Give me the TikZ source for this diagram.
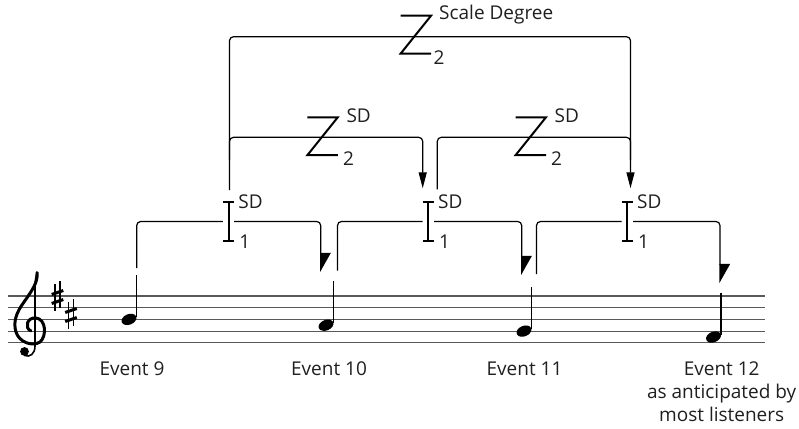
\documentclass[tikz,border=0pt]{standalone}
\usepackage{fontspec}
\setmainfont{Open Sans}
\usetikzlibrary{arrows.meta,shapes.geometric}

\begin{document}
\begin{tikzpicture}[x=1pt,y=-1pt,
  lbl/.style={font=\fontsize{19}{23}\selectfont, inner sep=0pt, text=black!88},
  staffline/.style={line width=1.2pt, draw=black!65},
  notehead/.style={ellipse, fill=black, minimum width=15.5pt, minimum height=10.5pt, inner sep=0pt, rotate=22},
  stem/.style={line width=1.3pt},
  brk/.style={line width=1.2pt, rounded corners=4pt},
  uparr/.style={brk, -{Triangle[width=8pt,length=16pt]}},
  lowarr/.style={brk, -{Triangle[harpoon,width=20pt,length=18pt]}},
  ibar/.style={inner sep=0pt, minimum width=11pt, minimum height=38.5pt},
  zsym/.style={inner sep=0pt, minimum width=30pt, minimum height=37.5pt},
  glyph/.style={line width=2pt},
]
\useasboundingbox (0,0) rectangle (799,428);

% staff
\foreach \y in {296,307.7,319.4,331.1,342.8}
  \draw[staffline] (8,\y) -- (765,\y);

% treble clef
\fill (24.5,351.5) circle (4.4pt);
\draw[line width=1.6pt] (24.5,355.5) .. controls (30,357.5) and (35,354) .. (35,346)
  -- (35,288) .. controls (35,281) and (36,276) .. (37,272.5);
\draw[line width=3pt, line cap=round] (37,272.5) .. controls (38.5,282) and (31,292) .. (24,302)
  .. controls (16,313) and (13,322) .. (16,332)
  .. controls (19,342) and (32,347) .. (40,342)
  .. controls (47,336) and (46,319) .. (36,318)
  .. controls (27,317) and (24,328) .. (31,331);

% key signature: two sharps
\foreach \dx/\dy in {0/0, 13.5/18} {
  \begin{scope}[shift={(\dx,\dy)}]
    \draw[line width=1.1pt] (55,284) -- (55,311) (60,281) -- (60,308);
    \draw[line width=3pt] (51.7,294.5) -- (63.3,290.5) (51.7,303.5) -- (63.3,299.5);
  \end{scope}
}

% notes
\node[notehead] (n9)  at (129,319.4) {};
\node[notehead] (n10) at (326,325.2) {};
\node[notehead] (n11) at (524,331.1) {};
\node[notehead] (n12) at (713.5,337) {};
\foreach \n in {n9,n10,n11,n12}
  \draw[stem] ([xshift=7.6pt,yshift=2pt]\n.center) -- ++(0,-42.5);

% event labels
\node[lbl, anchor=base] (ev9)  at (132,375) {Event 9};
\node[lbl, anchor=base] (ev10) at (329,375) {Event 10};
\node[lbl, anchor=base] (ev11) at (524.5,375) {Event 11};
\node[lbl, anchor=north, align=center] (ev12) at (721.7,361.5) {Event 12\\as anticipated by\\most listeners};

% first-level symbols
\node[ibar] (i1) at (228.5,221.5) {};
\node[ibar] (i2) at (428.3,221.5) {};
\node[ibar] (i3) at (627.3,221.5) {};
\foreach \n in {i1,i2,i3} {
  \draw[glyph] (\n.north west) -- (\n.north east) (\n.north) -- (\n.south) (\n.south west) -- (\n.south east);
  \node[lbl, anchor=west] (\n sd) at ([xshift=4pt]\n.north east) {SD};
  \node[lbl, anchor=west] (\n num) at ([xshift=5pt,yshift=-1pt]\n.south east) {1};
}

% second-level symbols
\node[zsym] (z1) at (322.6,136.2) {};
\node[zsym] (z2) at (530.8,136.2) {};
\node[zsym] (z0) at (415.8,34.7) {};
\foreach \n in {z0,z1,z2}
  \draw[glyph] (\n.north west) -- (\n.north east) -- (\n.south west) -- (\n.south east);
\foreach \n in {z1,z2} {
  \node[lbl, anchor=west] (\n sd) at ([xshift=8.5pt,yshift=2pt]\n.north east) {SD};
  \node[lbl, anchor=west] (\n num) at ([xshift=5pt,yshift=-3pt]\n.south east) {2};
}
\node[lbl, anchor=west] (z0sd) at ([xshift=8pt,yshift=1pt]z0.north east) {Scale Degree};
\node[lbl, anchor=west] (z0num) at ([xshift=2.5pt,yshift=-3.5pt]z0.south east) {2};

% bracket end points
\coordinate (s9)  at (136.7,268);
\coordinate (t10) at (320.7,272);
\coordinate (s10) at (337.5,270.7);
\coordinate (t11) at (521.7,275);
\coordinate (s11) at (536.5,274);
\coordinate (t12) at (720,283);

\coordinate (topL) at (229.5,190);
\coordinate (topY) at (415.8,36.7);
\coordinate (topR) at (630.5,188.3);
\coordinate (mAs)  at (229.5,160);
\coordinate (mAY)  at (322.6,137.3);
\coordinate (mAt)  at (422.7,188.3);
\coordinate (mBs)  at (437.3,189.3);
\coordinate (mBY)  at (530.8,137.3);
\coordinate (mBe)  at (630.5,160);

% first-level brackets
\draw[lowarr] (s9)  |- (i1) -| (t10);
\draw[lowarr] (s10) |- (i2) -| (t11);
\draw[lowarr] (s11) |- (i3) -| (t12);

% second-level brackets
\draw[uparr] (mAs) |- (mAY) -| (mAt);
\draw[brk]   (mBs) |- (mBY) -| (mBe);

% top bracket
\draw[uparr] (topL) |- (topY) -| (topR);
\end{tikzpicture}
\end{document}
